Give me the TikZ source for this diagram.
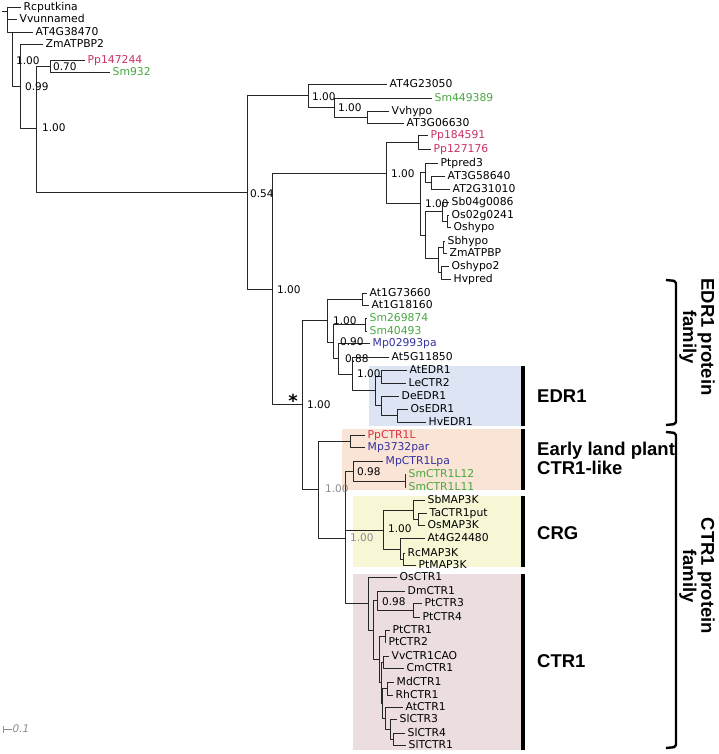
\documentclass[tikz,border=0pt]{standalone}
\usepackage{fontspec}
\setmainfont{DejaVu Sans}
\newfontfamily\arialfont{Liberation Sans}
\definecolor{ppcol}{RGB}{200,48,100}
\definecolor{ppred}{RGB}{218,48,64}
\definecolor{smcol}{RGB}{72,168,64}
\definecolor{mpcol}{RGB}{52,50,160}
\definecolor{edrbg}{RGB}{221,229,245}
\definecolor{landbg}{RGB}{250,228,214}
\definecolor{crgbg}{RGB}{247,247,214}
\definecolor{ctrbg}{RGB}{236,222,222}
\definecolor{sbgray}{RGB}{140,140,140}
\tikzset{
  br/.style={line width=0.9pt, black!85},
  lf/.style={anchor=west, inner xsep=2.5pt, inner ysep=0pt, text height=7.6pt, text depth=0pt, font=\fontsize{10.8}{12}\selectfont},
  pp/.style={lf, text=ppcol},
  ppr/.style={lf, text=ppred},
  sm/.style={lf, text=smcol},
  mp/.style={lf, text=mpcol},
  bs/.style={anchor=west, inner sep=0pt, text height=7.6pt, text depth=0pt, font=\fontsize{10.5}{12}\selectfont},
  bsg/.style={bs, text=sbgray},
  grp/.style={anchor=west, inner sep=0pt, align=left, font=\arialfont\bfseries\fontsize{18.5}{19}\selectfont},
  fam/.style={inner sep=0pt, align=center, rotate=-90, font=\arialfont\bfseries\fontsize{18.5}{17}\selectfont},
  bar/.style={line width=3.2pt},
  brk/.style={line width=2.4pt, rounded corners=2pt},
}
\begin{document}
\begin{tikzpicture}[x=1pt,y=-1pt,line join=round]
\useasboundingbox (0,0) rectangle (719,754);
\fill[edrbg] (369,366) rectangle (521,426);
\fill[landbg] (342,429) rectangle (521,490);
\fill[crgbg] (353,496) rectangle (521,567);
\fill[ctrbg] (353,574) rectangle (521,750);
\draw[bar] (523,366) -- (523,426);
\draw[bar] (523,429) -- (523,490);
\draw[bar] (523,496) -- (523,567);
\draw[bar] (523,574) -- (523,750);

\coordinate (rt) at (2,11);
\coordinate (nR) at (7,11);
\coordinate (nA) at (12,32);
\coordinate (nB) at (20,86);
\coordinate (nC) at (36,128);
\coordinate (nD) at (50,66);
\coordinate (nE) at (247,192);
\coordinate (nF) at (308,95);
\coordinate (nG) at (334,107);
\coordinate (nH) at (367,117);
\coordinate (nI) at (272,289);
\coordinate (nJ) at (386,173);
\coordinate (nK) at (418,142);
\coordinate (nL) at (420,203);
\coordinate (nM) at (425,172);
\coordinate (nO) at (431,182);
\coordinate (nN) at (425,235);
\coordinate (nP) at (442,211);
\coordinate (nPR) at (447,221);
\coordinate (nQ) at (438,258);
\coordinate (nS) at (443,247);
\coordinate (nT) at (441,272);
\coordinate (nU) at (302,404);
\coordinate (nV) at (327,320);
\coordinate (nW) at (362,299);
\coordinate (nX) at (333,342);
\coordinate (nSm) at (365,324);
\coordinate (nY) at (338,358);
\coordinate (nZ) at (352,374);
\coordinate (nAB) at (375,390);
\coordinate (nAC) at (381,376);
\coordinate (nAD) at (381,405);
\coordinate (nAE) at (397,415);
\coordinate (nAF) at (318,489);
\coordinate (nAG) at (350,441);
\coordinate (nAJ) at (345,538);
\coordinate (nAH) at (353,471);
\coordinate (nBH) at (405,481);
\coordinate (nAK) at (383,530);
\coordinate (nAL) at (413,510);
\coordinate (nAM) at (418,519);
\coordinate (nAN) at (400,549);
\coordinate (nAO) at (403,559);
\coordinate (nAP) at (368,603);
\coordinate (nAQ) at (373,630);
\coordinate (nAR) at (377,600);
\coordinate (nAS) at (413,610);
\coordinate (nAT) at (379,659);
\coordinate (nAV) at (385,636);
\coordinate (nAW) at (381,682);
\coordinate (nBB) at (383,662);
\coordinate (nBC) at (382,703);
\coordinate (nBD) at (387,688);
\coordinate (nBE) at (385,718);
\coordinate (nBF) at (390,729);
\coordinate (nBG) at (393,739);

\node[lf] (lRc) at (21,7) {Rcputkina};
\node[lf] (lVv) at (17,19) {Vvunnamed};
\node[lf] (lAT438) at (33,32) {AT4G38470};
\node[lf] (lZm2) at (43,44) {ZmATPBP2};
\node[pp] (lPp147) at (85,60) {Pp147244};
\node[sm] (lSm932) at (110,72) {Sm932};
\node[lf] (lAT423) at (387,84) {AT4G23050};
\node[sm] (lSm449) at (432,98) {Sm449389};
\node[lf] (lVvhy) at (389,111) {Vvhypo};
\node[lf] (lAT306) at (404,123) {AT3G06630};
\node[pp] (lPp184) at (428,135) {Pp184591};
\node[pp] (lPp127) at (431,149) {Pp127176};
\node[lf] (lPtp3) at (438,163) {Ptpred3};
\node[lf] (lAT358) at (445,176) {AT3G58640};
\node[lf] (lAT231) at (450,189) {AT2G31010};
\node[lf] (lSb04) at (449,202) {Sb04g0086};
\node[lf] (lOs02) at (449,215) {Os02g0241};
\node[lf] (lOshy) at (451,227) {Oshypo};
\node[lf] (lSbhy) at (445,241) {Sbhypo};
\node[lf] (lZmAT) at (447,253) {ZmATPBP};
\node[lf] (lOshy2) at (449,266) {Oshypo2};
\node[lf] (lHvp) at (451,279) {Hvpred};
\node[lf] (lAt173) at (367,293) {At1G73660};
\node[lf] (lAt118) at (369,305) {At1G18160};
\node[sm] (lSm269) at (367,318) {Sm269874};
\node[sm] (lSm404) at (367,331) {Sm40493};
\node[mp] (lMp029) at (370,343) {Mp02993pa};
\node[lf] (lAt511) at (389,357) {At5G11850};
\node[lf] (lAtEDR) at (407,370) {AtEDR1};
\node[lf] (lLeCTR) at (406,383) {LeCTR2};
\node[lf] (lDeEDR) at (399,396) {DeEDR1};
\node[lf] (lOsEDR) at (408,409) {OsEDR1};
\node[lf] (lHvEDR) at (426,422) {HvEDR1};
\node[ppr] (lPpCTR) at (365,435) {PpCTR1L};
\node[mp] (lMp373) at (365,447) {Mp3732par};
\node[mp] (lMpCTR) at (383,461) {MpCTR1Lpa};
\node[sm] (lSm12) at (406,474) {SmCTR1L12};
\node[sm] (lSm11) at (406,487) {SmCTR1L11};
\node[lf] (lSbMAP) at (425,500) {SbMAP3K};
\node[lf] (lTaCTR) at (427,513) {TaCTR1put};
\node[lf] (lOsMAP) at (425,525) {OsMAP3K};
\node[lf] (lAt424) at (425,538) {At4G24480};
\node[lf] (lRcMAP) at (405,553) {RcMAP3K};
\node[lf] (lPtMAP) at (416,565) {PtMAP3K};
\node[lf] (lOsCTR) at (397,577) {OsCTR1};
\node[lf] (lDmCTR) at (405,591) {DmCTR1};
\node[lf] (lPtC3) at (422,603) {PtCTR3};
\node[lf] (lPtC4) at (420,617) {PtCTR4};
\node[lf] (lPtC1) at (390,630) {PtCTR1};
\node[lf] (lPtC2) at (386,642) {PtCTR2};
\node[lf] (lVvCTR) at (389,656) {VvCTR1CAO};
\node[lf] (lCmCTR) at (404,668) {CmCTR1};
\node[lf] (lMdCTR) at (394,682) {MdCTR1};
\node[lf] (lRhCTR) at (393,695) {RhCTR1};
\node[lf] (lAtCTR) at (403,707) {AtCTR1};
\node[lf] (lSlC3) at (397,719) {SlCTR3};
\node[lf] (lSlC4) at (405,733) {SlCTR4};
\node[lf] (lSlT) at (406,745) {SlTCTR1};

\draw[br] (rt) -- (nR);
\draw[br] (nR) |- (lRc.west) (nR) |- (lVv.west) (nR) |- (nA);
\draw[br] (nA) |- (lAT438.west) (nA) |- (nB);
\draw[br] (nB) |- (lZm2.west) (nB) |- (nC);
\draw[br] (nC) |- (nD) (nC) |- (nE);
\draw[br] (nD) |- (lPp147.west) (nD) |- (lSm932.west);
\draw[br] (nE) |- (nF) (nE) |- (nI);
\draw[br] (nF) |- (lAT423.west) (nF) |- (nG);
\draw[br] (nG) |- (lSm449.west) (nG) |- (nH);
\draw[br] (nH) |- (lVvhy.west) (nH) |- (lAT306.west);
\draw[br] (nI) |- (nJ) (nI) |- (nU);
\draw[br] (nJ) |- (nK) (nJ) |- (nL);
\draw[br] (nK) |- (lPp184.west) (nK) |- (lPp127.west);
\draw[br] (nL) |- (nM) (nL) |- (nN);
\draw[br] (nM) |- (lPtp3.west) (nM) |- (nO);
\draw[br] (nO) |- (lAT358.west) (nO) |- (lAT231.west);
\draw[br] (nN) |- (nP) (nN) |- (nQ);
\draw[br] (nP) |- (lSb04.west) (nP) |- (nPR);
\draw[br] (nPR) |- (lOs02.west) (nPR) |- (lOshy.west);
\draw[br] (nQ) |- (nS) (nQ) |- (nT);
\draw[br] (nS) |- (lSbhy.west) (nS) |- (lZmAT.west);
\draw[br] (nT) |- (lOshy2.west) (nT) |- (lHvp.west);
\draw[br] (nU) |- (nV) (nU) |- (nAF);
\draw[br] (nV) |- (nW) (nV) |- (nX);
\draw[br] (nW) |- (lAt173.west) (nW) |- (lAt118.west);
\draw[br] (nX) |- (nSm) (nX) |- (nY);
\draw[br] (nSm) |- (lSm269.west) (nSm) |- (lSm404.west);
\draw[br] (nY) |- (lMp029.west) (nY) |- (nZ);
\draw[br] (nZ) |- (lAt511.west) (nZ) |- (nAB);
\draw[br] (nAB) |- (nAC) (nAB) |- (nAD);
\draw[br] (nAC) |- (lAtEDR.west) (nAC) |- (lLeCTR.west);
\draw[br] (nAD) |- (lDeEDR.west) (nAD) |- (nAE);
\draw[br] (nAE) |- (lOsEDR.west) (nAE) |- (lHvEDR.west);
\draw[br] (nAF) |- (nAG) (nAF) |- (nAJ);
\draw[br] (nAG) |- (lPpCTR.west) (nAG) |- (lMp373.west);
\draw[br] (nAJ) |- (nAH) (nAJ) |- (nAK) (nAJ) |- (nAP);
\draw[br] (nAH) |- (lMpCTR.west) (nAH) |- (nBH);
\draw[br] (nBH) |- (lSm12.west) (nBH) |- (lSm11.west);
\draw[br] (nAK) |- (nAL) (nAK) |- (nAN);
\draw[br] (nAL) |- (lSbMAP.west) (nAL) |- (nAM);
\draw[br] (nAM) |- (lTaCTR.west) (nAM) |- (lOsMAP.west);
\draw[br] (nAN) |- (lAt424.west) (nAN) |- (nAO);
\draw[br] (nAO) |- (lRcMAP.west) (nAO) |- (lPtMAP.west);
\draw[br] (nAP) |- (lOsCTR.west) (nAP) |- (nAQ);
\draw[br] (nAQ) |- (nAR) (nAQ) |- (nAT);
\draw[br] (nAR) |- (lDmCTR.west) (nAR) |- (nAS);
\draw[br] (nAS) |- (lPtC3.west) (nAS) |- (lPtC4.west);
\draw[br] (nAT) |- (nAV) (nAT) |- (nAW);
\draw[br] (nAV) |- (lPtC1.west) (nAV) |- (lPtC2.west);
\draw[br] (nAW) |- (nBB) (nAW) |- (nBC);
\draw[br] (nBB) |- (lVvCTR.west) (nBB) |- (lCmCTR.west);
\draw[br] (nBC) |- (nBD) (nBC) |- (nBE);
\draw[br] (nBD) |- (lMdCTR.west) (nBD) |- (lRhCTR.west);
\draw[br] (nBE) |- (lAtCTR.west) (nBE) |- (nBF);
\draw[br] (nBF) |- (lSlC3.west) (nBF) |- (nBG);
\draw[br] (nBG) |- (lSlC4.west) (nBG) |- (lSlT.west);

\node[bs] (s1) at (16,61) {1.00};
\node[bs] (s2) at (53,67) {0.70};
\node[bs] (s3) at (25,87) {0.99};
\node[bs] (s4) at (42,128) {1.00};
\node[bs] (s5) at (250,194) {0.54};
\node[bs] (s6) at (312,97) {1.00};
\node[bs] (s7) at (338,108) {1.00};
\node[bs] (s8) at (277,290) {1.00};
\node[bs] (s9) at (391,174) {1.00};
\node[bs] (s10) at (425,204) {1.00};
\node[bs] (s11) at (333,321) {1.00};
\node[bs] (s12) at (340,342) {0.90};
\node[bs] (s13) at (345,359) {0.88};
\node[bs] (s14) at (357,374) {1.00};
\node[bs] (s15) at (307,405) {1.00};
\node[bs] (s16) at (357,472) {0.98};
\node[bsg] (s17) at (325,489) {1.00};
\node[bsg] (s18) at (350,538) {1.00};
\node[bs] (s19) at (388,529) {1.00};
\node[bs] (s20) at (382,602) {0.98};
\node[inner sep=0pt, font=\bfseries\fontsize{18}{18}\selectfont] (star) at (293,401) {*};

\node[grp] (gEDR) at (537,396) {EDR1};
\node[grp] (gLand) at (537,458) {Early land plant\\CTR1-like};
\node[grp] (gCRG) at (537,533) {CRG};
\node[grp] (gCTR) at (537,661) {CTR1};
\draw[brk] (666,280) -- (676,281) -- (676,424) -- (666,425);
\draw[brk] (666,432) -- (676,433) -- (676,747) -- (666,748);
\node[fam] (fEDR) at (697,337) {EDR1 protein\\family};
\node[fam] (fCTR) at (697,576) {CTR1 protein\\family};

\coordinate (sbL) at (3,729);
\coordinate (sbR) at (12,729);
\draw[sbgray, line width=0.8pt] (sbL) -- (sbR) ([yshift=-3.5pt]sbL) -- ([yshift=3.5pt]sbL);
\node[anchor=west, inner sep=0.5pt, text=sbgray, font=\itshape\fontsize{10.5}{12}\selectfont] (sbT) at (sbR) {0.1};
\end{tikzpicture}
\end{document}
